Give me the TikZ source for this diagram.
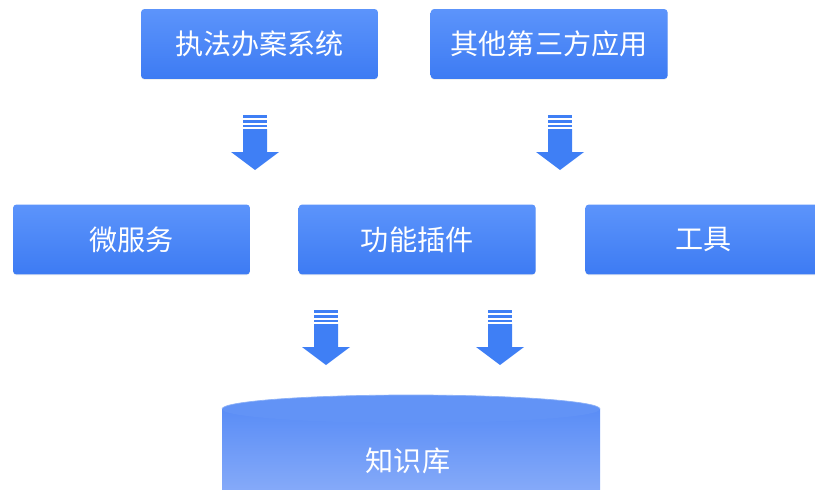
\documentclass[tikz,border=0pt]{standalone}
\usepackage{fontspec}
\setmainfont{Noto Sans CJK SC}
\usepackage{tikz}
\usetikzlibrary{positioning, shadows}

\definecolor{boxtop}{HTML}{5C94FB}
\definecolor{boxbot}{HTML}{3D7BF3}
\definecolor{arrowblue}{HTML}{3F7FF5}
\definecolor{dbtop}{HTML}{5A8DF6}
\definecolor{dbbot}{HTML}{8AADF9}

\tikzset{
    box/.style={rectangle, rounded corners=2pt, top color=boxtop, bottom color=boxbot,
        minimum width=4.74cm, minimum height=1.4cm, text=white,
        font=\fontsize{16}{19}\selectfont,
        drop shadow={opacity=0.12, shadow xshift=0pt, shadow yshift=-0.5pt}},
    pics/downarrow/.style={code={
        \fill[arrowblue] (-12,0) rectangle (12,3);
        \fill[arrowblue] (-12,5) rectangle (12,8);
        \fill[arrowblue] (-12,10) rectangle (12,12);
        \fill[arrowblue] (-12,14) -- (12,14) -- (12,37) -- (24,37)
            -- (0,55) -- (-24,37) -- (-12,37) -- cycle;
    }}
}

\begin{document}
\begin{tikzpicture}[x=0.02cm, y=-0.02cm]
    \useasboundingbox (0,0) rectangle (815,490);
    \clip (0,0) rectangle (815,490);

    % sources
    \node[box] (law) at (259.5,44) {执法办案系统};
    \node[box, right=1.04cm of law] (third) {其他第三方应用};

    % middle layer
    \node[box] (micro) at (131.5,239.5) {微服务};
    \node[box, right=0.96cm of micro] (plugin) {功能插件};
    \node[box, right=0.98cm of plugin] (tools) {工具};

    % arrows
    \coordinate (a1) at (255,115);
    \coordinate (a2) at (560,115);
    \coordinate (a3) at (326,310);
    \coordinate (a4) at (500,310);
    \foreach \c in {a1,a2,a3,a4}
        \pic at (\c) {downarrow};

    % knowledge base
    \shade[top color=dbtop, bottom color=dbbot] (222,409) -- (222,500) -- (600,500) -- (600,409) -- cycle;
    \fill[dbtop!95!white] (411,409) ellipse [x radius=189, y radius=14];
    \draw[boxbot!60!white, line width=0.4pt] (222,409) arc [start angle=180, end angle=360, x radius=189, y radius=14];
    \node[text=white, font=\fontsize{16}{19}\selectfont] (kb) at (408,461) {知识库};
\end{tikzpicture}
\end{document}
